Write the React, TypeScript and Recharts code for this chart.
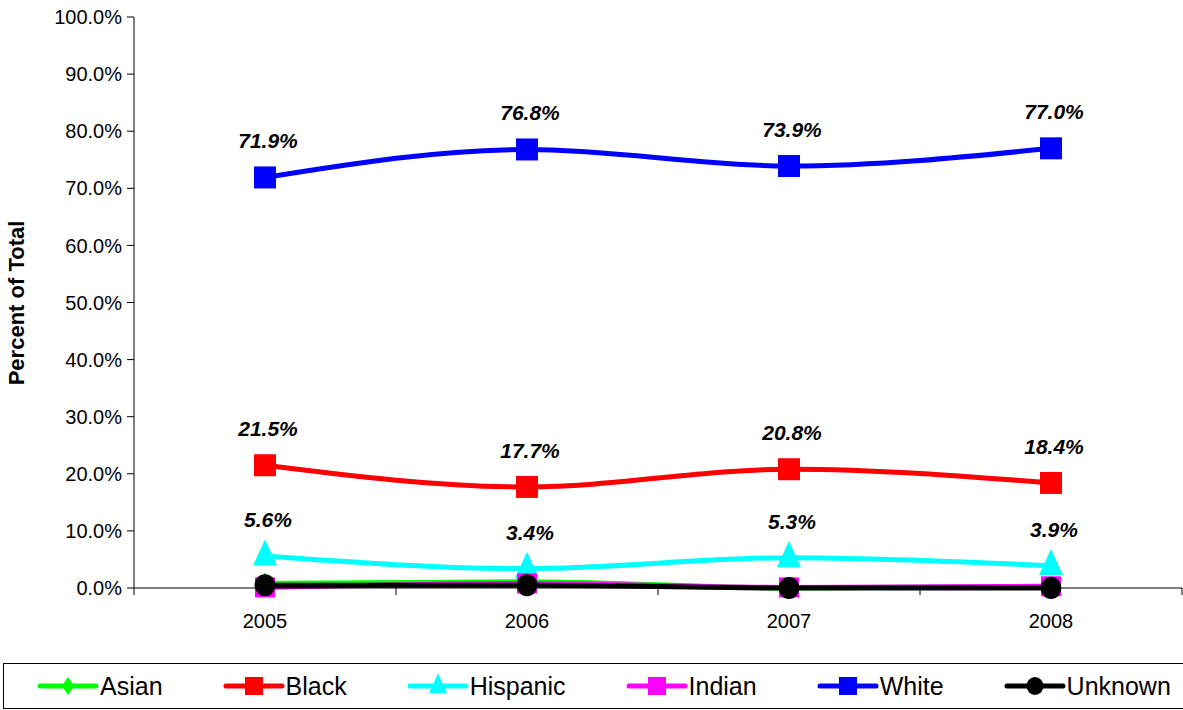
import React from 'react';
import { LineChart, Line, XAxis, YAxis, LabelList } from 'recharts';

const years = [2005, 2006, 2007, 2008];
const asian = [0.8, 1.1, 0.0, 0.3];
const black = [21.5, 17.7, 20.8, 18.4];
const hispanic = [5.6, 3.4, 5.3, 3.9];
const indian = [0.1, 0.8, 0.1, 0.3];
const white = [71.9, 76.8, 73.9, 77.0];
const unknown = [0.5, 0.5, 0.0, 0.0];
const yTicks = [0, 10, 20, 30, 40, 50, 60, 70, 80, 90, 100];

const data = years.map((year, i) => ({
  year,
  Asian: asian[i],
  Black: black[i],
  Hispanic: hispanic[i],
  Indian: indian[i],
  White: white[i],
  Unknown: unknown[i],
}));

const xTicks = [2004.5, 2005, 2005.5, 2006, 2006.5, 2007, 2007.5, 2008, 2008.5];

const FONT = 'Liberation Sans, Arial';

type Shape = 'diamond' | 'square' | 'triangle' | 'circle';

const series: { key: string; color: string; shape: Shape; size: number; labels: boolean }[] = [
  { key: 'Asian', color: '#00FF00', shape: 'diamond', size: 11, labels: false },
  { key: 'Black', color: '#FF0000', shape: 'square', size: 11, labels: true },
  { key: 'Hispanic', color: '#00FFFF', shape: 'triangle', size: 12, labels: true },
  { key: 'Indian', color: '#FF00FF', shape: 'square', size: 10, labels: false },
  { key: 'White', color: '#0000FF', shape: 'square', size: 11, labels: true },
  { key: 'Unknown', color: '#000000', shape: 'circle', size: 11, labels: false },
];

const marker = (shape: Shape, cx: number, cy: number, r: number, color: string, key?: string) => {
  if (shape === 'square') return <rect key={key} x={cx - r} y={cy - r} width={r * 2} height={r * 2} fill={color} />;
  if (shape === 'triangle')
    return <polygon key={key} points={`${cx},${cy - r * 1.4} ${cx - r},${cy + r * 0.8} ${cx + r},${cy + r * 0.8}`} fill={color} />;
  if (shape === 'diamond')
    return <polygon key={key} points={`${cx},${cy - r} ${cx + r * 0.7},${cy} ${cx},${cy + r} ${cx - r * 0.7},${cy}`} fill={color} />;
  return <ellipse key={key} cx={cx} cy={cy} rx={r * 0.95} ry={r} fill={color} />;
};

const XTick = (props: any) => {
  const { x, y, payload } = props;
  const v = payload.value;
  if (Number.isInteger(v)) {
    return (
      <text x={x} y={y + 32} textAnchor="middle" fontSize={20} fill="#000" fontFamily={FONT}>
        {v}
      </text>
    );
  }
  return <line x1={x} x2={x} y1={y - 8} y2={y - 1} stroke="#000" strokeWidth={1} />;
};

const ValueLabel = (props: any) => {
  const { x, y, value } = props;
  return (
    <text x={x + 3} y={y - 29} textAnchor="middle" fontSize={21} fontWeight="bold" fontStyle="italic" fill="#000" fontFamily={FONT}>
      {value.toFixed(1)}%
    </text>
  );
};

const App = () => (
  <div style={{ position: 'absolute', left: 0, top: 0, width: 1183, height: 710, background: '#fff', fontFamily: FONT }}>
    <LineChart width={1183} height={650} data={data} margin={{ top: 17, right: 1, left: 0, bottom: 22 }}>
      <XAxis
        dataKey="year"
        type="number"
        domain={[2004.5, 2008.5]}
        ticks={xTicks}
        tick={<XTick />}
        tickLine={false}
        interval={0}
        height={40}
        stroke="#000"
      />
      <YAxis
        domain={[0, 100]}
        ticks={yTicks}
        width={134}
        tickSize={7}
        tickMargin={5}
        tickFormatter={(v: number) => `${v.toFixed(1)}%`}
        tick={{ fontSize: 20, fill: '#000', fontFamily: FONT }}
        stroke="#000"
        label={{
          content: () => (
            <text x={24} y={303} transform="rotate(-90 24 303)" textAnchor="middle" fontSize={22} fontWeight="bold" fill="#000" fontFamily={FONT}>
              Percent of Total
            </text>
          ),
        }}
      />
      {series.map((s) => (
        <Line
          key={s.key}
          type="monotone"
          dataKey={s.key}
          stroke={s.color}
          strokeWidth={5}
          isAnimationActive={false}
          activeDot={false}
          dot={(p: any) => marker(s.shape, p.cx, p.cy, s.size, s.color, `${s.key}-${p.index}`)}
        >
          {s.labels && <LabelList dataKey={s.key} content={<ValueLabel />} />}
        </Line>
      ))}
    </LineChart>
    <div
      style={{
        position: 'absolute',
        left: 3,
        top: 663,
        width: 1180,
        height: 46,
        border: '1px solid #000',
        borderRight: 'none',
        boxSizing: 'border-box',
        display: 'flex',
        alignItems: 'center',
        paddingLeft: 33,
        gap: 60,
      }}
    >
      {series.map((s) => (
        <div key={s.key} style={{ display: 'flex', alignItems: 'center' }}>
          <svg width={62} height={30}>
            <line x1={3} x2={59} y1={15} y2={15} stroke={s.color} strokeWidth={5} strokeLinecap="round" />
            {marker(s.shape, 31, 15, 9, s.color)}
          </svg>
          <span style={{ fontSize: 25, marginLeft: 1, color: '#000' }}>{s.key}</span>
        </div>
      ))}
    </div>
  </div>
);

export default App;
